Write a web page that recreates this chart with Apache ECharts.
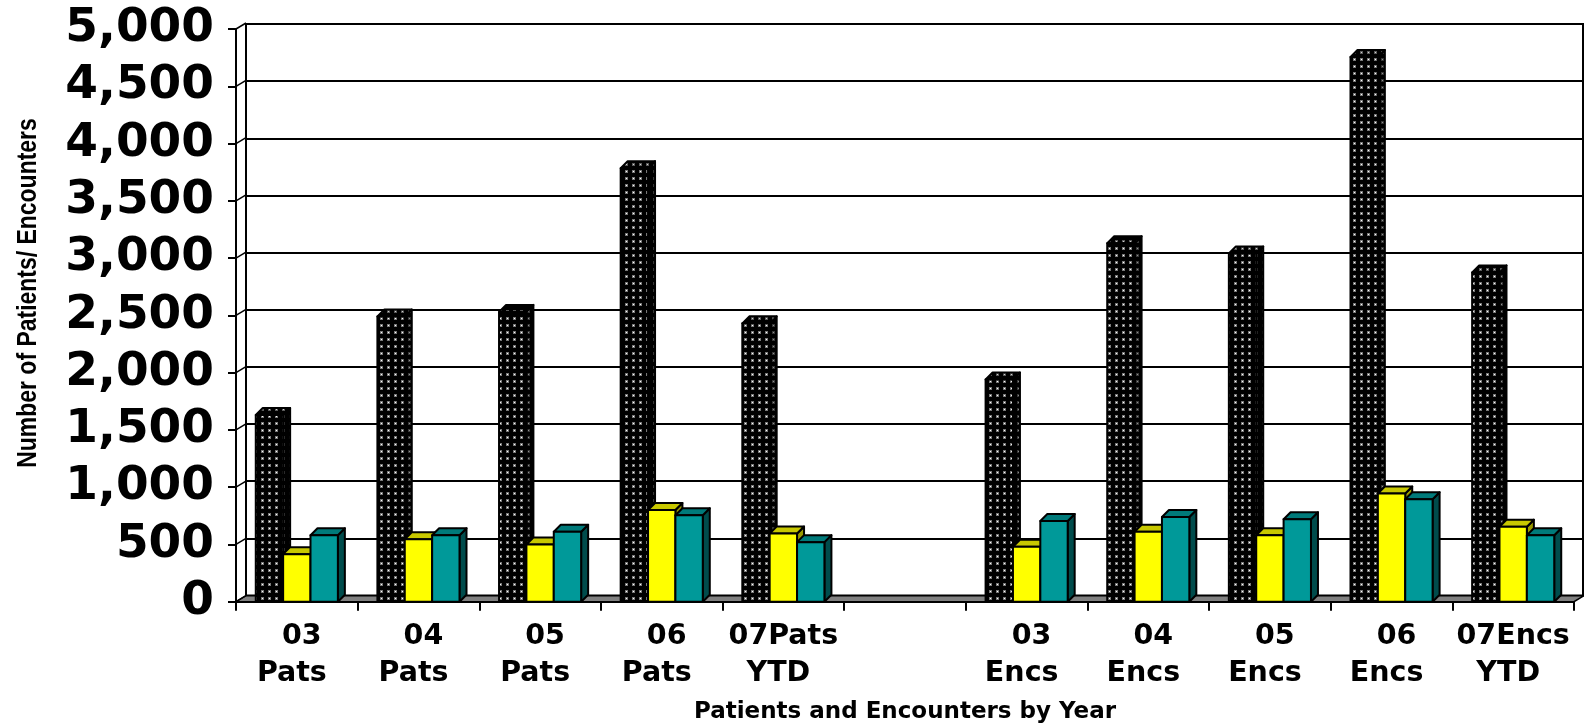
<!DOCTYPE html>
<html>
<head>
<meta charset="utf-8">
<script src="https://cdn.jsdelivr.net/npm/echarts@6/dist/echarts.min.js"></script>
<style>
  html, body { margin: 0; padding: 0; background: #fff; }
  #chart { width: 1584px; height: 726px; }
</style>
</head>
<body>
<div id="chart"></div>
<script>
// Yearly patients and encounters, three groups per year
const categories = [' 03\nPats ', ' 04\nPats ', ' 05\nPats ', ' 06\nPats ', '07Pats\nYTD ', '',
                    ' 03\nEncs ', ' 04\nEncs ', ' 05\nEncs ', ' 06\nEncs ', '07Encs\nYTD '];
const allCounts    = [1630, 2490, 2530, 3785, 2430, null, 1940, 3130, 3040, 4755, 2875];
const yellowCounts = [415, 545, 500, 800, 595, null, 480, 610, 580, 945, 655];
const tealCounts   = [580, 580, 610, 755, 520, null, 705, 740, 720, 895, 580];
const yTickValues  = [0, 500, 1000, 1500, 2000, 2500, 3000, 3500, 4000, 4500, 5000];

const Y_MAX = 5000, Y_STEP = 500;
const WALL_DX = 10, WALL_DY = -6;   // back wall offset behind the front plane
const DEPTH_X = 7, DEPTH_Y = -7;    // column depth
const BAR_SHARE = 0.225;            // column width as share of a category

// dotted black fill used on the first group's columns
function dotTile(bg, halo, core) {
  const c = document.createElement('canvas');
  c.width = 7; c.height = 7;
  const g = c.getContext('2d');
  g.fillStyle = bg; g.fillRect(0, 0, 7, 7);
  g.fillStyle = halo; g.fillRect(2, 2, 3, 3);
  g.fillStyle = core; g.fillRect(3, 3, 1, 1);
  return { image: c, repeat: 'repeat' };
}
const dotFront = dotTile('#000', '#777', '#ffffff');
const dotTop = dotTile('#000', '#5a5a5a', '#d0d0d0');
const dotSide = dotTile('#000', '#383838', '#909090');

const faceSets = [
  { front: dotFront, top: dotTop, side: dotSide },
  { front: '#ffff00', top: '#c8c800', side: '#999900' },
  { front: '#009999', top: '#007a7a', side: '#004c4c' }
];

function columnRenderer(slot) {
  const faces = faceSets[slot];
  return function (params, api) {
    const val = api.value(1);
    if (val == null || isNaN(val)) return null;
    const idx = api.value(0);
    const base = api.coord([idx, 0]);
    const head = api.coord([idx, val]);
    const w = api.size([1, 0])[0] * BAR_SHARE;
    const x0 = base[0] + (slot - 1.5) * w;
    const x1 = x0 + w;
    const yt = head[1], yb = base[1];
    const edge = { stroke: '#000', lineWidth: 2, lineJoin: 'round' };
    return {
      type: 'group',
      children: [
        { type: 'polygon', shape: { points: [[x1, yt], [x1 + DEPTH_X, yt + DEPTH_Y], [x1 + DEPTH_X, yb + DEPTH_Y], [x1, yb]] },
          style: Object.assign({ fill: faces.side }, edge) },
        { type: 'polygon', shape: { points: [[x0, yt], [x0 + DEPTH_X, yt + DEPTH_Y], [x1 + DEPTH_X, yt + DEPTH_Y], [x1, yt]] },
          style: Object.assign({ fill: faces.top }, edge) },
        { type: 'rect', shape: { x: x0, y: yt, width: w, height: yb - yt },
          style: Object.assign({ fill: faces.front }, edge) }
      ]
    };
  };
}

// floor and the thin left side wall linking front ticks to back gridlines
function floorRenderer(params, api) {
  const cs = params.coordSys;
  const y0 = api.coord([0, 0])[1];
  const left = cs.x, right = cs.x + cs.width;
  const kids = [{
    type: 'polygon',
    shape: { points: [[left, y0], [right, y0], [right + WALL_DX, y0 + WALL_DY], [left + WALL_DX, y0 + WALL_DY]] },
    style: { fill: '#808080', stroke: '#000', lineWidth: 1.5 }
  }];
  yTickValues.forEach(function (v) {
    const y = api.coord([0, v])[1];
    kids.push({ type: 'line', shape: { x1: left, y1: y, x2: left + WALL_DX, y2: y + WALL_DY },
      style: { stroke: '#000', lineWidth: 1.5 } });
  });
  return { type: 'group', children: kids };
}

const toPairs = arr => arr.map((v, i) => [i, v]);

const chart = echarts.init(document.getElementById('chart'), null, { renderer: 'canvas' });
chart.setOption({
  animation: false,
  backgroundColor: '#fff',
  grid: [
    { left: 246, right: 1, top: 24, bottom: 130.5, outerBoundsMode: 'none',
      show: true, backgroundColor: '#fff', borderColor: '#000', borderWidth: 2 },
    { left: 236, right: 10, top: 29, bottom: 124.3, outerBoundsMode: 'none' }
  ],
  xAxis: [
    { gridIndex: 0, type: 'category', data: categories, show: false },
    {
      gridIndex: 1, type: 'category', data: categories, boundaryGap: true,
      axisLine: { show: true, lineStyle: { color: '#000', width: 2 } },
      axisTick: { show: true, interval: 0, length: 9, lineStyle: { color: '#000', width: 2 } },
      axisLabel: { interval: 0, color: '#000', fontFamily: 'DejaVu Sans', fontWeight: 'bold', fontSize: 28.5, lineHeight: 37, margin: 16 },
      name: 'Patients and Encounters by Year', nameLocation: 'middle', nameGap: 99,
      nameTextStyle: { color: '#000', fontFamily: 'DejaVu Sans', fontWeight: 'bold', fontSize: 23 }
    }
  ],
  yAxis: [
    {
      gridIndex: 0, type: 'value', min: 0, max: Y_MAX, interval: Y_STEP,
      axisLine: { show: false }, axisTick: { show: false }, axisLabel: { show: false },
      splitLine: { show: true, lineStyle: { color: '#000', width: 2 } }
    },
    {
      gridIndex: 1, type: 'value', min: 0, max: Y_MAX, interval: Y_STEP,
      axisLine: { show: true, lineStyle: { color: '#000', width: 2 } },
      axisTick: { show: true, length: 8, lineStyle: { color: '#000', width: 2 } },
      splitLine: { show: false },
      axisLabel: {
        color: '#000', fontFamily: 'DejaVu Sans', fontWeight: 'bold', fontSize: 47, margin: 22,
        formatter: v => v.toLocaleString('en-US')
      }
    }
  ],
  graphic: [{
    type: 'text', x: 28, y: 293, rotation: Math.PI / 2, scaleX: 0.82,
    style: {
      text: 'Number of Patients/ Encounters', fill: '#000',
      font: 'bold 28px "Liberation Sans", sans-serif',
      align: 'center', verticalAlign: 'middle'
    }
  }],
  series: [
    { type: 'custom', name: 'floor', xAxisIndex: 1, yAxisIndex: 1, clip: false, z: 1,
      data: [[0, 0]], renderItem: floorRenderer, silent: true },
    { type: 'custom', name: 'All', xAxisIndex: 1, yAxisIndex: 1, clip: false, z: 3,
      data: toPairs(allCounts), encode: { x: 0, y: 1 }, renderItem: columnRenderer(0) },
    { type: 'custom', name: 'Yellow group', xAxisIndex: 1, yAxisIndex: 1, clip: false, z: 4,
      data: toPairs(yellowCounts), encode: { x: 0, y: 1 }, renderItem: columnRenderer(1) },
    { type: 'custom', name: 'Teal group', xAxisIndex: 1, yAxisIndex: 1, clip: false, z: 5,
      data: toPairs(tealCounts), encode: { x: 0, y: 1 }, renderItem: columnRenderer(2) }
  ]
});
</script>
</body>
</html>
